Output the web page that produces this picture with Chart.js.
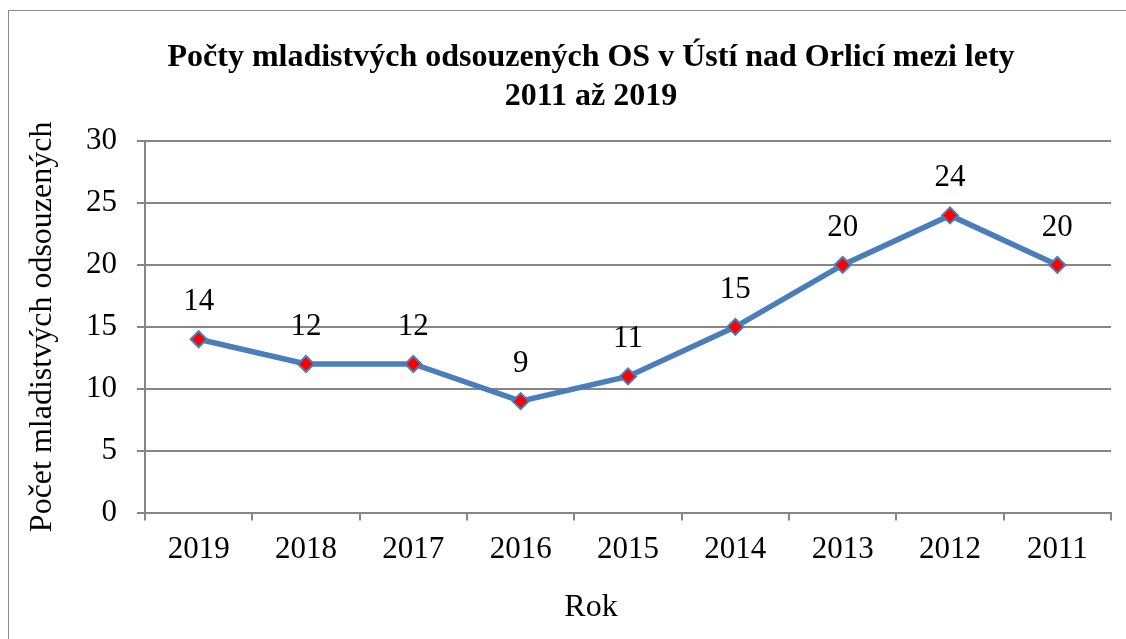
<!DOCTYPE html>
<html lang="cs">
<head>
<meta charset="utf-8">
<title>Počty mladistvých odsouzených</title>
<script src="https://cdn.jsdelivr.net/npm/chart.js@4.4.0/dist/chart.umd.min.js"></script>
<style>
    html, body { margin: 0; padding: 0; background: #fff; overflow: hidden; width: 1126px; height: 639px; }
    #ramecek { position: absolute; left: 8px; top: 10px; width: 1164px; height: 640px; border: 1px solid #888; background: #fff; }
    #grafOdsouzeni { display: block; }
</style>
</head>
<body>
<div id="ramecek"><canvas id="grafOdsouzeni" width="1164" height="640"></canvas></div>
<script>
const roky = ["2019", "2018", "2017", "2016", "2015", "2014", "2013", "2012", "2011"];
const pocty = [14, 12, 12, 9, 11, 15, 20, 24, 20];
const popiskyOsyY = [0, 5, 10, 15, 20, 25, 30];

const nadpis = ["Počty mladistvých odsouzených OS v Ústí nad Orlicí mezi lety", "2011 až 2019"];
const nazevOsyX = "Rok";
const nazevOsyY = "Počet mladistvých odsouzených";

const pismo = "'Liberation Serif', 'Times New Roman', serif";
const seda = "#868686";

// hodnoty nad body
const popiskyHodnot = {
    id: "popiskyHodnot",
    afterDatasetsDraw(chart) {
        const ctx = chart.ctx;
        const meta = chart.getDatasetMeta(0);
        ctx.save();
        ctx.font = "31px " + pismo;
        ctx.fillStyle = "#000";
        ctx.textAlign = "center";
        ctx.textBaseline = "alphabetic";
        meta.data.forEach(function(bod, i) {
            ctx.fillText(String(pocty[i]), bod.x, bod.y - 29);
        });
        ctx.restore();
    }
};

window.addEventListener("DOMContentLoaded", function() {
    const ctx = document.getElementById("grafOdsouzeni").getContext("2d");
    new Chart(ctx, {
        type: "line",
        data: {
            labels: roky,
            datasets: [{
                data: pocty,
                borderColor: "#4A7EBB",
                borderWidth: 5.5,
                pointStyle: "rectRot",
                pointRadius: 8,
                pointBackgroundColor: "#FF0000",
                pointBorderColor: "#4A7EBB",
                pointBorderWidth: 2,
                tension: 0
            }]
        },
        options: {
            responsive: false,
            animation: false,
            layout: { padding: 0 },
            plugins: {
                legend: { display: false },
                tooltip: { enabled: false },
                title: {
                    display: true,
                    text: nadpis,
                    color: "#000",
                    font: { family: pismo, size: 32, weight: "bold", lineHeight: 1.22 },
                    padding: { top: 27, bottom: 25 }
                },
                subtitle: {
                    display: true,
                    position: "bottom",
                    text: nazevOsyX,
                    color: "#000",
                    font: { family: pismo, size: 32, lineHeight: 1.2 },
                    padding: { top: 0, bottom: 24 }
                }
            },
            scales: {
                x: {
                    offset: true,
                    grid: { drawOnChartArea: false, drawTicks: true, tickLength: 8, color: seda, lineWidth: 2, offset: true },
                    border: { color: seda, width: 2 },
                    ticks: { color: "#000", font: { family: pismo, size: 31 }, padding: 11, maxRotation: 0, autoSkip: false },
                    afterFit: function(osa) { osa.height = 76; }
                },
                y: {
                    min: 0,
                    max: 30,
                    afterBuildTicks: function(osa) { osa.ticks = popiskyOsyY.map(function(v) { return { value: v }; }); },
                    grid: { color: seda, lineWidth: 2, tickLength: 8 },
                    border: { color: seda, width: 2 },
                    ticks: { color: "#000", font: { family: pismo, size: 31 }, padding: 20 },
                    title: {
                        display: true,
                        text: nazevOsyY,
                        color: "#000",
                        font: { family: pismo, size: 32 },
                        padding: { top: 14, bottom: 0 }
                    },
                    afterFit: function(osa) { osa.width = 136; }
                },
                // prázdné místo vpravo, aby nadpis a "Rok" byly uprostřed rámečku
                mezera: {
                    type: "linear",
                    position: "right",
                    grid: { display: false },
                    border: { display: false },
                    ticks: { display: false },
                    afterFit: function(osa) { osa.width = 62; }
                }
            }
        },
        plugins: [popiskyHodnot]
    });
});
</script>
</body>
</html>
